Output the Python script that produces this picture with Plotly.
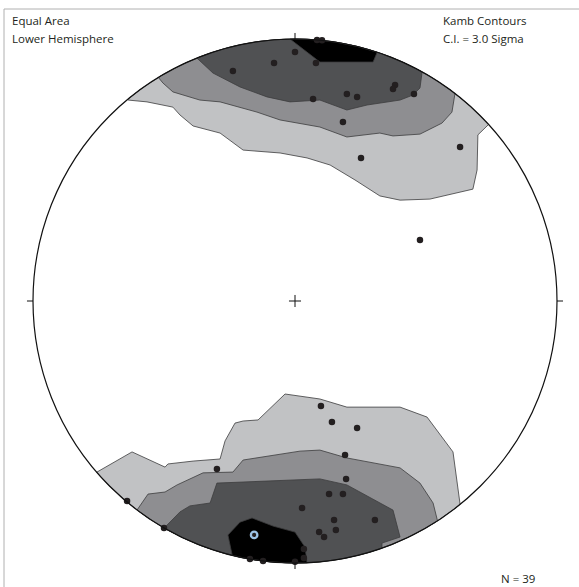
import numpy as np
import plotly.graph_objects as go

# Poles, equal-area lower-hemisphere projection (unit primitive circle)
pole_x = [0.000, -0.080, -0.237, 0.080, 0.084, 0.103, 0.069, 0.198, 0.237, 0.382,
          0.374, 0.454, 0.183, 0.252, 0.630, 0.477,
          -0.298, -0.641, -0.500, -0.172, -0.122, 0.000, 0.099, 0.141, 0.237, 0.191,
          0.195, 0.130, 0.183, 0.027, 0.149, 0.305, 0.156, 0.092, 0.111, 0.034, 0.034]
pole_y = [0.950, 0.908, 0.878, 0.908, 0.996, 0.995, 0.771, 0.790, 0.779, 0.824,
          0.809, 0.790, 0.683, 0.546, 0.588, 0.233,
          -0.641, -0.763, -0.866, -0.985, -0.992, -0.995, -0.401, -0.462, -0.485, -0.588,
          -0.679, -0.737, -0.737, -0.790, -0.836, -0.836, -0.874, -0.882, -0.901, -0.947, -0.981]

# Maximum-density direction
max_x = [-0.156]
max_y = [-0.893]

# Kamb contour boundaries (open lines ending on the primitive circle)
top_levels = {
    "light": ([-0.637, -0.565, -0.466, -0.439, -0.389, -0.286, -0.198, -0.057, 0.046, 0.134,
               0.229, 0.324, 0.401, 0.515, 0.679, 0.695, 0.698, 0.737],
              [0.767, 0.760, 0.740, 0.710, 0.668, 0.641, 0.576, 0.565, 0.546, 0.519,
               0.462, 0.401, 0.385, 0.389, 0.427, 0.500, 0.634, 0.672]),
    "medium": ([-0.523, -0.504, -0.466, -0.393, -0.363, -0.286, -0.145, -0.057, 0.095, 0.198,
                0.275, 0.324, 0.374, 0.477, 0.515, 0.561, 0.599, 0.611],
               [0.855, 0.832, 0.798, 0.775, 0.767, 0.760, 0.721, 0.691, 0.664, 0.626,
                0.634, 0.641, 0.630, 0.637, 0.656, 0.679, 0.721, 0.794]),
    "dark": ([-0.374, -0.313, -0.210, -0.107, -0.019, 0.095, 0.198, 0.275, 0.401, 0.450, 0.477, 0.485],
             [0.927, 0.870, 0.817, 0.779, 0.760, 0.767, 0.729, 0.748, 0.767, 0.786, 0.813, 0.874]),
    "black": ([-0.019, 0.095, 0.298, 0.313],
              [0.9998, 0.912, 0.912, 0.947]),
}
bottom_levels = {
    "light": ([-0.756, -0.622, -0.496, -0.485, -0.389, -0.286, -0.267, -0.229, -0.198, -0.141,
               -0.038, 0.019, 0.095, 0.198, 0.401, 0.504, 0.603, 0.630],
              [-0.653, -0.576, -0.634, -0.622, -0.611, -0.603, -0.534, -0.466, -0.458, -0.454,
               -0.355, -0.363, -0.374, -0.405, -0.405, -0.443, -0.576, -0.775]),
    "medium": ([-0.603, -0.561, -0.496, -0.450, -0.351, -0.237, -0.198, 0.019, 0.095, 0.198,
                0.401, 0.477, 0.527, 0.542],
               [-0.798, -0.737, -0.729, -0.702, -0.656, -0.653, -0.607, -0.573, -0.569, -0.599,
                -0.637, -0.695, -0.771, -0.836]),
    "dark": ([-0.496, -0.439, -0.401, -0.324, -0.298, -0.210, 0.019, 0.095, 0.198, 0.374,
              0.401, 0.332, 0.332],
             [-0.863, -0.805, -0.782, -0.771, -0.695, -0.691, -0.683, -0.679, -0.702, -0.798,
              -0.901, -0.924, -0.939]),
    "black": ([-0.240, -0.256, -0.210, -0.164, -0.084, 0.000, 0.038, 0.046],
              [-0.969, -0.893, -0.844, -0.828, -0.859, -0.882, -0.939, -0.996]),
}
level_order = ["light", "medium", "dark", "black"]
level_colors = {"light": "#c1c2c4", "medium": "#8e8e91", "dark": "#505153", "black": "#000000"}


def close_on_circle(xs, ys, n=80):
    """Close a contour line along the primitive circle (short way round)."""
    xs = np.asarray(xs, float)
    ys = np.asarray(ys, float)
    a_end = np.arctan2(ys[-1], xs[-1])
    a_start = np.arctan2(ys[0], xs[0])
    d = (a_start - a_end + np.pi) % (2 * np.pi) - np.pi
    t = np.linspace(0, 1, n)
    ang = a_end + d * t
    return (np.concatenate([xs, np.cos(ang), xs[:1]]),
            np.concatenate([ys, np.sin(ang), ys[:1]]))


fig = go.Figure()

for group in (top_levels, bottom_levels):
    for lvl in level_order:
        px_, py_ = close_on_circle(*group[lvl])
        fig.add_trace(go.Scatter(
            x=px_, y=py_, mode="lines", fill="toself",
            fillcolor=level_colors[lvl],
            line=dict(color="#3c3c3e", width=0.8),
            hoverinfo="skip", showlegend=False,
        ))

fig.add_trace(go.Scatter(
    x=pole_x, y=pole_y, mode="markers",
    marker=dict(size=6.5, color="#231f20"),
    showlegend=False,
))
fig.add_trace(go.Scatter(
    x=max_x, y=max_y, mode="markers",
    marker=dict(size=6.5, color="#231f20", line=dict(color="#9cc3e6", width=2.3)),
    showlegend=False,
))

# Primitive circle, cardinal ticks and centre cross
shapes = [dict(type="circle", xref="x", yref="y", x0=-1, y0=-1, x1=1, y1=1,
               line=dict(color="#111111", width=1.2))]
t = 0.023
for x0, y0, x1, y1 in [(0, 1, 0, 1 + t), (0, -1, 0, -1 - t), (1, 0, 1 + t, 0), (-1, 0, -1 - t, 0),
                       (-t, 0, t, 0), (0, -t, 0, t)]:
    shapes.append(dict(type="line", xref="x", yref="y", x0=x0, y0=y0, x1=x1, y1=y1,
                       line=dict(color="#111111", width=1)))
# Page frame
W, H = 579, 587
shapes.append(dict(type="rect", xref="paper", yref="paper",
                   x0=4 / W, y0=-0.1, x1=1.1, y1=1 - 9 / H,
                   line=dict(color="#b0b0b0", width=1)))

font = dict(family="Open Sans, Noto Sans, sans-serif", size=11.5, color="#231f20")
annotations = [
    dict(text="Equal Area", x=10 / W, y=1 - 20 / H),
    dict(text="Lower Hemisphere", x=10 / W, y=1 - 38 / H),
    dict(text="Kamb Contours", x=441 / W, y=1 - 20 / H),
    dict(text="C.I. = 3.0 Sigma", x=441 / W, y=1 - 38 / H),
    dict(text="N = 39", x=499 / W, y=1 - 578 / H),
]
for a in annotations:
    a.update(xref="paper", yref="paper", xanchor="left", yanchor="middle",
             showarrow=False, font=font)

R = 262.0
fig.update_layout(
    width=W, height=H,
    margin=dict(l=0, r=0, t=0, b=0),
    paper_bgcolor="white", plot_bgcolor="white",
    xaxis=dict(range=[-295 / R, (W - 295) / R], visible=False, fixedrange=True),
    yaxis=dict(range=[(301 - H) / R, 301 / R], visible=False, fixedrange=True),
    shapes=shapes, annotations=annotations,
    showlegend=False,
)

fig.write_html("out.html")
